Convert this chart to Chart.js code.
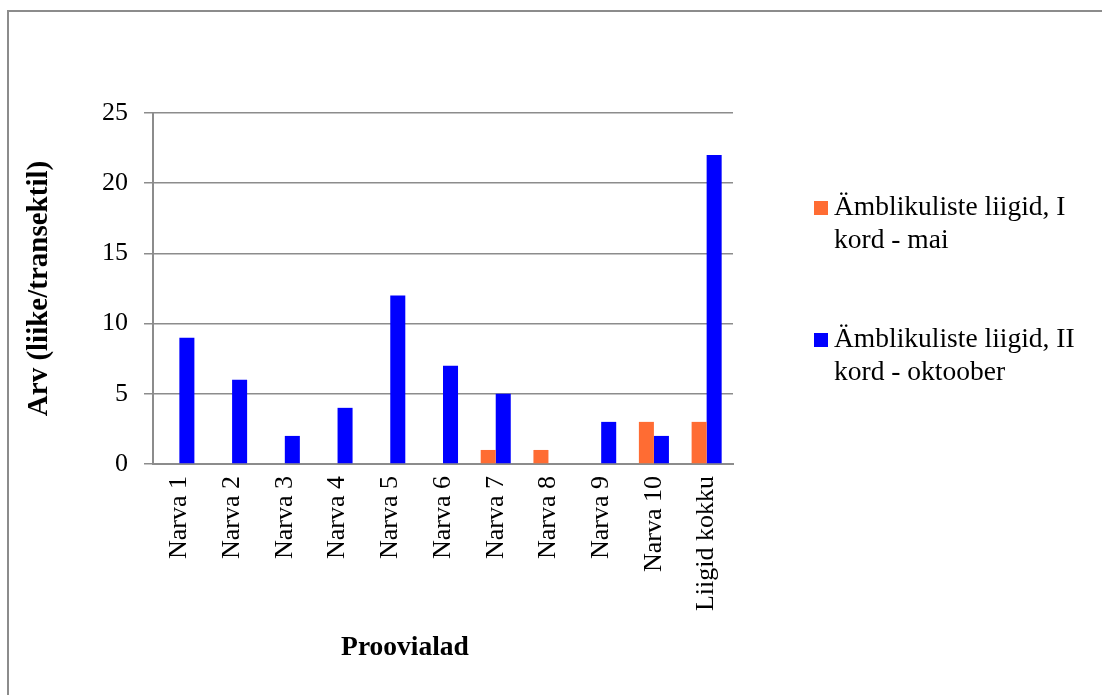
<!DOCTYPE html>
<html>
<head>
<meta charset="utf-8">
<script src="https://cdn.jsdelivr.net/npm/chart.js@4.4.1/dist/chart.umd.min.js"></script>
<style>
  html, body { margin: 0; padding: 0; background: #fff; }
  #wrap { position: relative; width: 1102px; height: 695px; }
  #legend { position: absolute; left: 814px; top: 0; font-family: "Liberation Serif", "Times New Roman", serif; font-size: 27.5px; color: #000; line-height: 33px; }
  .item { position: absolute; left: 0; width: 288px; white-space: nowrap; }
  .box { position: absolute; left: 0; top: 12px; width: 14px; height: 14px; }
  .txt { margin-left: 20px; }
</style>
</head>
<body>
<div id="wrap">
  <canvas id="chart" width="1102" height="695"></canvas>
  <div id="legend"></div>
</div>
<script>
// DADOS
const categories = ["Narva 1", "Narva 2", "Narva 3", "Narva 4", "Narva 5", "Narva 6", "Narva 7", "Narva 8", "Narva 9", "Narva 10", "Liigid kokku"];
const mai = [0, 0, 0, 0, 0, 0, 1, 1, 0, 3, 3];
const oktoober = [9, 6, 2, 4, 12, 7, 5, 0, 3, 2, 22];
const seriesNames = ["Ämblikuliste liigid, I kord - mai", "Ämblikuliste liigid, II kord - oktoober"];
const yTicks = [0, 5, 10, 15, 20, 25];

const colors = ["#FF6C33", "#0000FF"];
const serif = "'Liberation Serif', 'Times New Roman', serif";

// MOLDURA + TITULO X
const framePlugin = {
    id: "frame",
    beforeDraw(chart) {
        const c = chart.ctx;
        c.save();
        c.strokeStyle = "#8c8c8c";
        c.lineWidth = 2;
        c.beginPath();
        c.moveTo(8, 700);
        c.lineTo(8, 11);
        c.lineTo(1110, 11);
        c.stroke();
        c.restore();
    },
    afterDraw(chart) {
        const c = chart.ctx;
        c.save();
        c.font = "bold 27.5px " + serif;
        c.fillStyle = "#000";
        c.textAlign = "center";
        c.textBaseline = "alphabetic";
        c.fillText("Proovialad", 405, 655);
        c.restore();
    }
};

const chart = new Chart(document.getElementById("chart"), {
    type: "bar",
    data: {
        labels: categories,
        datasets: [
            { label: seriesNames[0], data: mai, backgroundColor: colors[0] },
            { label: seriesNames[1], data: oktoober, backgroundColor: colors[1] }
        ]
    },
    options: {
        responsive: false,
        animation: false,
        devicePixelRatio: 1,
        layout: { padding: { left: 0, right: 369, top: 113, bottom: 0 } },
        datasets: { bar: { categoryPercentage: 0.57, barPercentage: 1 } },
        plugins: { legend: { display: false }, tooltip: { enabled: false } },
        scales: {
            x: {
                grid: { display: false, drawTicks: false },
                border: { color: "#8c8c8c", width: 2 },
                ticks: {
                    color: "#000",
                    font: { family: serif, size: 26 },
                    minRotation: 90,
                    maxRotation: 90,
                    padding: 12,
                    autoSkip: false
                },
                afterFit(scale) { scale.height = 231; }
            },
            y: {
                min: 0,
                max: 25,
                afterBuildTicks(scale) { scale.ticks = yTicks.map(v => ({ value: v })); },
                grid: { color: "#8c8c8c", lineWidth: 1.5, tickLength: 9 },
                border: { color: "#8c8c8c", width: 2 },
                ticks: {
                    color: "#000",
                    font: { family: serif, size: 26 },
                    padding: 16
                },
                title: {
                    display: true,
                    text: "Arv (liike/transektil)",
                    color: "#000",
                    font: { family: serif, size: 29, weight: "bold" },
                    padding: { top: 22, bottom: 0 }
                },
                afterFit(scale) { scale.width = 153; }
            }
        }
    },
    plugins: [framePlugin]
});

// LEGENDA
const legend = document.getElementById("legend");
const tops = [189, 321];
seriesNames.forEach((name, i) => {
    const item = document.createElement("div");
    item.className = "item";
    item.style.top = tops[i] + "px";
    const box = document.createElement("div");
    box.className = "box";
    box.style.background = colors[i];
    const txt = document.createElement("div");
    txt.className = "txt";
    const parts = name.split(/(?<=, I+) /);
    txt.innerHTML = parts.join("<br>");
    item.appendChild(box);
    item.appendChild(txt);
    legend.appendChild(item);
});
</script>
</body>
</html>
